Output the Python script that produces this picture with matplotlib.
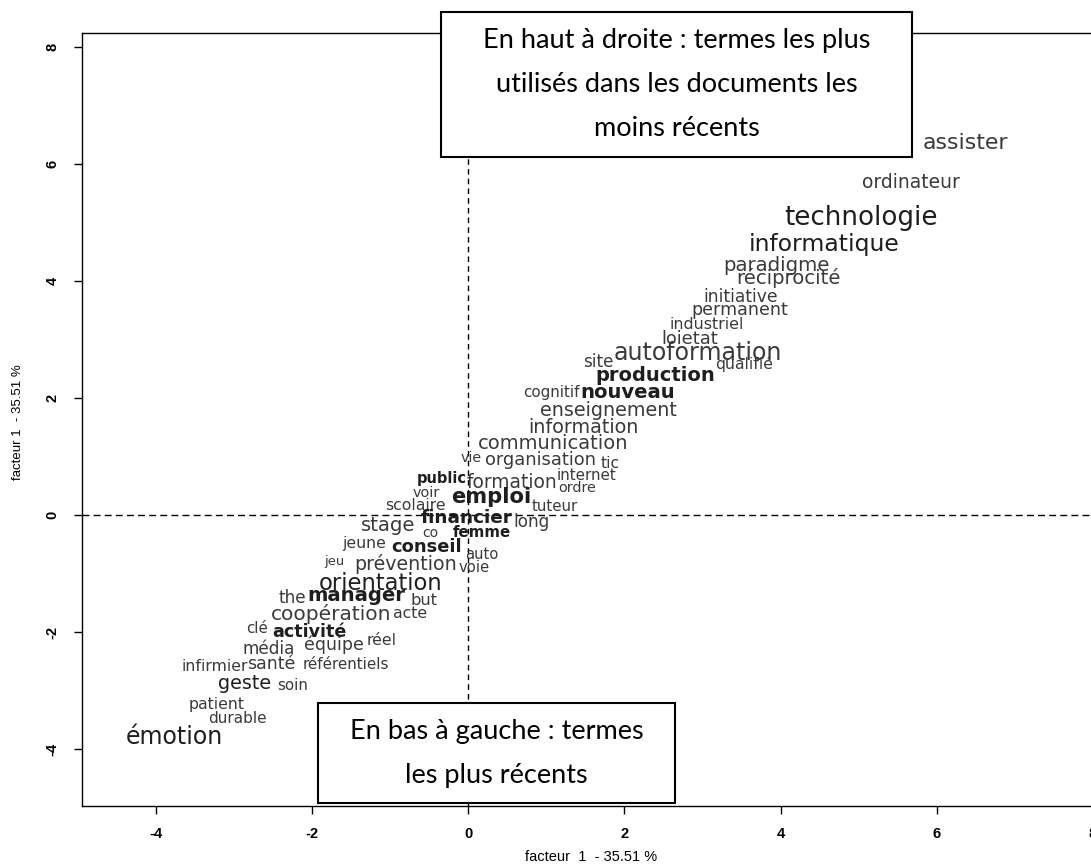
import matplotlib
matplotlib.use("Agg")
import matplotlib.pyplot as plt
from matplotlib.patches import Rectangle

# ---- data -------------------------------------------------------------
words = ["assister", "ordinateur", "technologie", "informatique", "paradigme",
         "réciprocité", "initiative", "permanent", "industriel", "loietat",
         "autoformation", "site", "qualifié", "production", "cognitif",
         "nouveau", "enseignement", "information", "communication", "vie",
         "organisation", "tic", "internet", "ordre", "public", "formation",
         "voir", "emploi", "scolaire", "tuteur", "financier", "long", "stage",
         "co", "femme", "jeune", "conseil", "auto", "jeu", "prévention", "voie",
         "orientation", "the", "manager", "but", "coopération", "acte", "clé",
         "activité", "réel", "média", "équipe", "infirmier", "santé",
         "référentiels", "geste", "soin", "patient", "durable", "émotion"]

factor1 = [6.37, 5.67, 5.03, 4.56, 3.95, 4.10, 3.49, 3.48, 3.05, 2.84,
           2.94, 1.66, 3.53, 2.39, 1.07, 2.04, 1.79, 1.47, 1.09, 0.04,
           0.93, 1.82, 1.52, 1.39, -0.34, 0.56, -0.54, 0.30, -0.67, 1.11,
           -0.02, 0.81, -1.02, -0.49, 0.17, -1.33, -0.54, 0.17, -1.72, -0.80,
           0.07, -1.12, -2.25, -1.43, -0.57, -1.76, -0.75, -2.70, -2.04, -1.11,
           -2.55, -1.72, -3.25, -2.52, -1.57, -2.86, -2.25, -3.22, -2.96, -3.76]

factor2 = [6.36, 5.68, 5.07, 4.62, 4.27, 4.05, 3.73, 3.50, 3.25, 3.01,
           2.77, 2.62, 2.58, 2.39, 2.09, 2.09, 1.79, 1.50, 1.23, 0.97,
           0.94, 0.89, 0.67, 0.46, 0.62, 0.55, 0.38, 0.31, 0.17, 0.15,
           -0.05, -0.12, -0.17, -0.31, -0.29, -0.48, -0.55, -0.68, -0.79, -0.84,
           -0.89, -1.16, -1.42, -1.37, -1.45, -1.69, -1.68, -1.93, -2.00, -2.14,
           -2.29, -2.22, -2.58, -2.55, -2.55, -2.87, -2.91, -3.23, -3.47, -3.79]

# text size of each term (pt) and emphasis
term_size = [15.8, 13.5, 18.8, 16.9, 14.2, 14.1, 12.3, 12.6, 11.4, 12.9,
             17.1, 12.1, 11.3, 14.0, 10.9, 14.1, 13.8, 13.8, 14.0, 10.3,
             12.9, 11.3, 10.9, 10.4, 10.5, 13.4, 10.4, 15.2, 11.3, 10.8,
             13.3, 12.2, 14.1, 10.1, 10.8, 11.3, 12.9, 10.6, 9.4, 13.7,
             10.6, 16.3, 12.2, 14.1, 11.7, 14.5, 11.3, 10.8, 12.6, 11.3,
             12.2, 12.5, 11.3, 12.5, 10.9, 13.8, 10.9, 11.3, 11.0, 17.0]

bold_terms = ["production", "nouveau", "emploi", "financier", "conseil",
              "manager", "activité", "public", "femme"]
dark_terms = ["technologie", "informatique", "émotion", "geste", "orientation"]

x_ticks = [-4, -2, 0, 2, 4, 6, 8]
y_ticks = [-4, -2, 0, 2, 4, 6, 8]
x_label = "facteur  1  - 35.51 %"
y_label = "facteur 1  - 35.51 %"
note_top = "En haut à droite : termes les plus\nutilisés dans les documents les\nmoins récents"
note_bottom = "En bas à gauche : termes\nles plus récents"

# ---- figure -----------------------------------------------------------
W, H = 1091, 866
fig = plt.figure(figsize=(W / 100, H / 100), dpi=100)
fig.patch.set_facecolor("white")

left_px, right_px, top_px, bottom_px = 81.7, 1100, 33, 806
ax = fig.add_axes([left_px / W, 1 - bottom_px / H,
                   (right_px - left_px) / W, (bottom_px - top_px) / H])
ax.set_xlim(-4.95, 8.09)
ax.set_ylim(-4.97, 8.24)

for s in ax.spines.values():
    s.set_linewidth(1.0)
    s.set_color("black")

tick_font = dict(family=["Liberation Sans Narrow", "Liberation Sans", "DejaVu Sans"],
                 size=10.5, weight="bold")
ax.set_xticks(x_ticks)
ax.set_yticks(y_ticks)
ax.set_xticklabels([str(t) for t in x_ticks], **tick_font)
ax.set_yticklabels([str(t) for t in y_ticks], rotation=90, va="center", **tick_font)
ax.tick_params(axis="both", direction="out", length=6, width=1, color="black")
ax.tick_params(axis="x", pad=9)
ax.tick_params(axis="y", pad=10)

ax.axhline(0, color="black", lw=1, ls=(0, (5, 3)), zorder=1)
ax.axvline(0, color="black", lw=1, ls=(0, (4, 3)), zorder=1)

for w, xv, yv, fs in zip(words, factor1, factor2, term_size):
    isb = w in bold_terms
    dark = isb or w in dark_terms
    ax.text(xv, yv, w, ha="center", va="center", fontsize=fs,
            family="DejaVu Sans", fontweight="bold" if isb else "normal",
            color="#1e1e1e" if dark else "#3a3a3a", zorder=3, clip_on=False)

lab_font = ["Liberation Sans Narrow", "Liberation Sans", "DejaVu Sans"]
fig.text((left_px + right_px) / 2 / W, 1 - 857 / H, x_label, ha="center", va="center",
         family=lab_font, fontsize=10.5)
fig.text(18 / W, 1 - 422 / H, y_label, ha="center", va="center", rotation=90,
         family=lab_font, fontsize=9.5)

# ---- annotation boxes -------------------------------------------------
def note(x0, x1, y0, y1, txt, fs, ls):
    fig.add_artist(Rectangle((x0 / W, 1 - y1 / H), (x1 - x0) / W, (y1 - y0) / H,
                             transform=fig.transFigure, facecolor="white",
                             edgecolor="black", linewidth=1.5, zorder=10))
    fig.text((x0 + x1) / 2 / W, 1 - (y0 + y1) / 2 / H, txt, ha="center", va="center",
             family=["Lato", "DejaVu Sans"], fontsize=fs, linespacing=ls,
             color="black", zorder=11)

note(441, 912, 12, 157, note_top, 19.5, 1.95)
note(318, 675, 703, 803, note_bottom, 19.5, 1.95)

fig.savefig("out.png", dpi=100, facecolor="white")
